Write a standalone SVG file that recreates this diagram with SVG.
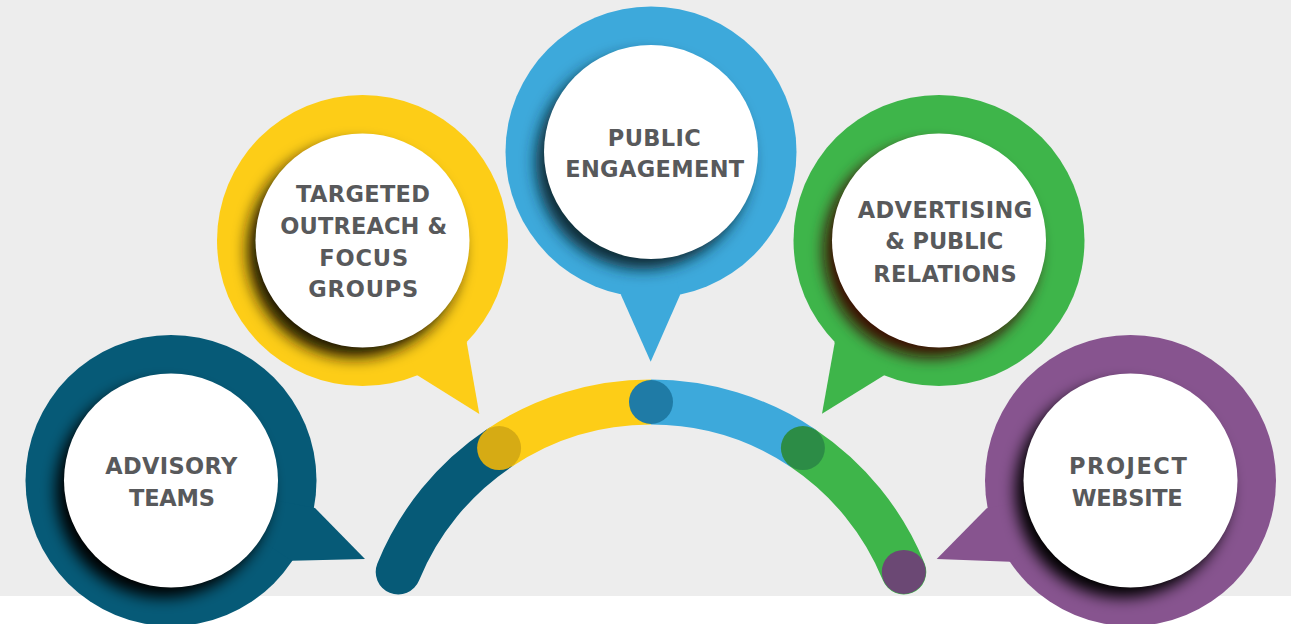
<svg xmlns="http://www.w3.org/2000/svg" width="1291" height="624" viewBox="0 0 1291 624">
  <defs>
    <style>
      .label { font-family: "DejaVu Sans", "Liberation Sans", sans-serif; font-weight: bold; font-size: 22.5px; fill: #58595B; text-anchor: middle; }
      .face { fill: #FFFFFF; }
      .shade { filter: url(#soft); }
      .seg { fill: none; stroke-width: 45; }
    </style>
    <!-- soft edge used by the drop shade under each white disc -->
    <filter id="soft" x="-40%" y="-40%" width="180%" height="180%">
      <feGaussianBlur stdDeviation="7.5"/>
    </filter>
    <!-- keeps the shade inside the coloured ring (node-local coordinates) -->
    <clipPath id="ring">
      <circle cx="0" cy="0" r="145"/>
    </clipPath>
  </defs>

  <!-- backdrop -->
  <rect x="0" y="0" width="1291" height="624" fill="#FFFFFF"/>
  <rect x="0" y="0" width="1291" height="596" fill="#EDEDED"/>

  <!-- connecting arc -->
  <g id="connectors">
    <path class="seg" stroke="#065A77" stroke-linecap="round" d="M398.2,571.9 A273,273 0 0 1 499.1,448.1"/>
    <path class="seg" stroke="#3EB54A" stroke-linecap="round" d="M802.9,448.1 A273,273 0 0 1 903.8,571.9"/>
    <path class="seg" stroke="#FDCD17" stroke-linecap="butt" d="M499.1,448.1 A273,273 0 0 1 651,402"/>
    <path class="seg" stroke="#3DA9DB" stroke-linecap="butt" d="M651,402 A273,273 0 0 1 802.9,448.1"/>
    <circle cx="499.1" cy="448.1" r="22" fill="#D6AB14"/>
    <circle cx="651" cy="402" r="22" fill="#1F7BA6"/>
    <circle cx="802.9" cy="448.1" r="22" fill="#2C8C46"/>
    <circle cx="903.8" cy="571.9" r="22" fill="#6B4874"/>
  </g>

  <!-- Advisory Teams -->
  <g id="node-advisory" transform="translate(171,480.5)">
    <circle r="145.5" fill="#065A77"/>
    <polygon points="0,0 144,27.5 194,78.5 120.7,80.2" fill="#065A77"/>
    <g clip-path="url(#ring)">
      <circle class="shade" cx="-8" cy="10" r="107" fill="#000000"/>
    </g>
    <circle class="face" r="107"/>
    <text class="label" x="0.2" y="-6.5" textLength="132" lengthAdjust="spacing">ADVISORY</text>
    <text class="label" x="1" y="25.2" textLength="86" lengthAdjust="spacing">TEAMS</text>
  </g>

  <!-- Targeted Outreach & Focus Groups -->
  <g id="node-outreach" transform="translate(362.5,240.5)">
    <circle r="145.5" fill="#FDCD17"/>
    <polygon points="0,0 54.8,134.8 116.8,173.5 104.2,101.8" fill="#FDCD17"/>
    <g clip-path="url(#ring)">
      <circle class="shade" cx="-8" cy="10" r="107" fill="#1A1200"/>
    </g>
    <circle class="face" r="107"/>
    <text class="label" x="0.5" y="-38.8" textLength="134" lengthAdjust="spacing">TARGETED</text>
    <text class="label" x="1.2" y="-6.5" textLength="167" lengthAdjust="spacing">OUTREACH &amp;</text>
    <text class="label" x="1.2" y="25.2" textLength="89" lengthAdjust="spacing">FOCUS</text>
    <text class="label" x="0.8" y="56.8" textLength="110" lengthAdjust="spacing">GROUPS</text>
  </g>

  <!-- Public Engagement -->
  <g id="node-engagement" transform="translate(651,152)">
    <circle r="145.5" fill="#3DA9DB"/>
    <polygon points="0,0 -30,143 -0.3,209.7 29,143" fill="#3DA9DB"/>
    <g clip-path="url(#ring)">
      <circle class="shade" cx="-8" cy="10" r="107" fill="#0E2A36"/>
    </g>
    <circle class="face" r="107"/>
    <text class="label" x="3.3" y="-6.3" textLength="93" lengthAdjust="spacing">PUBLIC</text>
    <text class="label" x="3.7" y="25.3" textLength="179" lengthAdjust="spacing">ENGAGEMENT</text>
  </g>

  <!-- Advertising & Public Relations -->
  <g id="node-advertising" transform="translate(939,240.5)">
    <circle r="145.5" fill="#3EB54A"/>
    <polygon points="0,0 -54.8,134.8 -117,173.2 -104.2,101.8" fill="#3EB54A"/>
    <g clip-path="url(#ring)">
      <circle class="shade" cx="-8" cy="10" r="107" fill="#3A0C04"/>
    </g>
    <circle class="face" r="107"/>
    <text class="label" x="6" y="-22.8" textLength="174.5" lengthAdjust="spacing">ADVERTISING</text>
    <text class="label" x="5.2" y="8.8" textLength="118" lengthAdjust="spacing">&amp; PUBLIC</text>
    <text class="label" x="6" y="41.2" textLength="143.4" lengthAdjust="spacing">RELATIONS</text>
  </g>

  <!-- Project Website -->
  <g id="node-website" transform="translate(1130.5,480.5)">
    <circle r="145.5" fill="#87548F"/>
    <polygon points="0,0 -143.8,27.8 -193.8,78.5 -120.5,81.2" fill="#87548F"/>
    <g clip-path="url(#ring)">
      <circle class="shade" cx="-8" cy="10" r="107" fill="#000000"/>
    </g>
    <circle class="face" r="107"/>
    <text class="label" x="-2.6" y="-6.5" textLength="117.7" lengthAdjust="spacing">PROJECT</text>
    <text class="label" x="-3.3" y="25.2" textLength="111" lengthAdjust="spacing">WEBSITE</text>
  </g>
</svg>
